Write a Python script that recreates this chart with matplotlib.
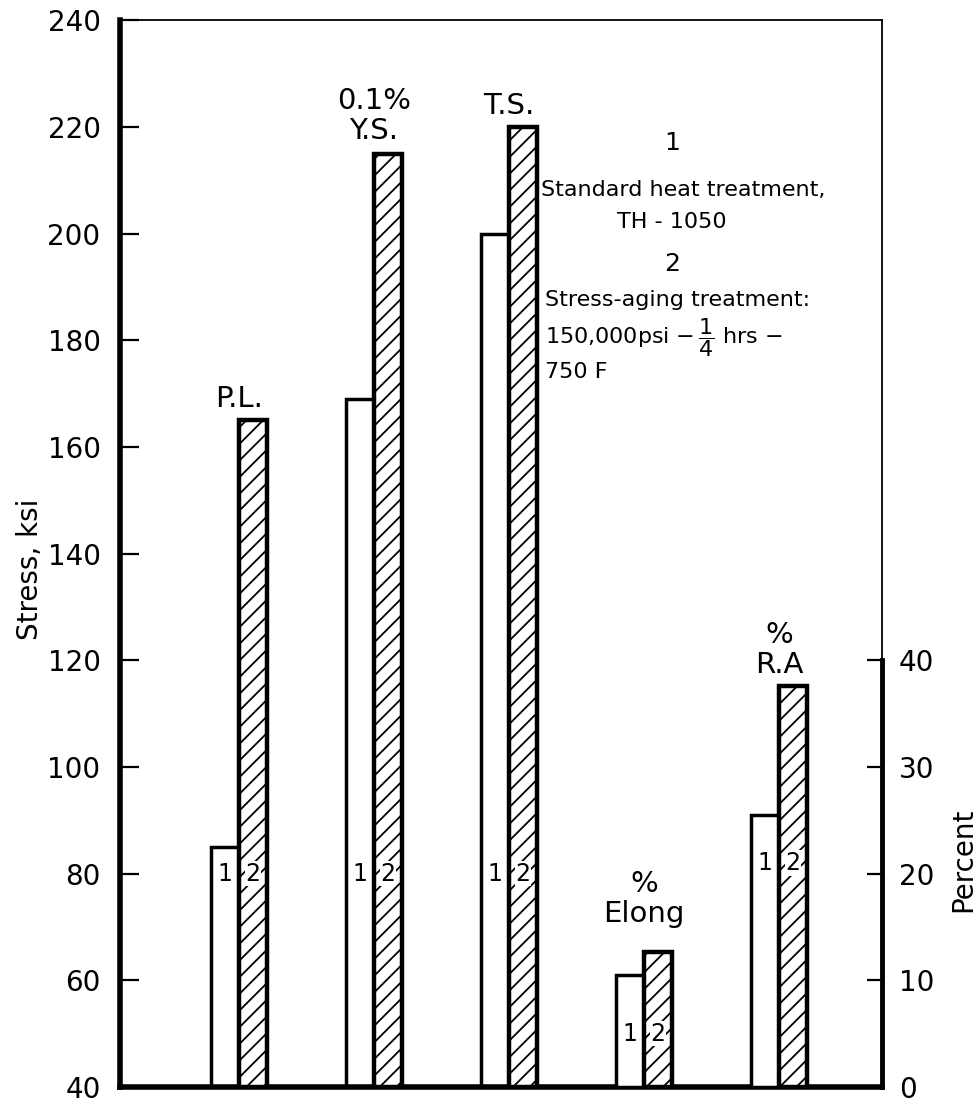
import numpy as np
import matplotlib
matplotlib.use("Agg")
import matplotlib.pyplot as plt

plt.rcParams['font.family'] = ['DejaVu Sans']
plt.rcParams['hatch.linewidth'] = 1.3

# stress properties (ksi), left axis
stress_names = ['P.L.', '0.1%\nY.S.', 'T.S.']
stress_1 = [85, 169, 200]
stress_2 = [165, 215, 220]
# ductility (percent), right axis
pct_names = ['%\nElong', '%\nR.A']
pct_1 = [10.5, 25.5]
pct_2 = [12.7, 37.6]

stress_ticks = list(range(40, 241, 20))
pct_ticks = [0, 10, 20, 30, 40]

fig = plt.figure(figsize=(9.77, 11.09), dpi=100)
ax = fig.add_axes([0.1228, 0.0198, 0.78, 0.962])
ax2 = ax.twinx()

w = 0.207
xs = np.arange(len(stress_names))
xp = np.arange(len(pct_names)) + len(stress_names)

ax.bar(xs - w / 2, np.array(stress_1) - 40, bottom=40, width=w,
       facecolor='white', edgecolor='black', linewidth=2.5, zorder=2)
ax.bar(xs + w / 2, np.array(stress_2) - 40, bottom=40, width=w,
       facecolor='white', edgecolor='black', linewidth=0, hatch='//', zorder=3)
ax.bar(xs + w / 2, np.array(stress_2) - 40, bottom=40, width=w,
       facecolor='none', edgecolor='black', linewidth=3.2, zorder=6)
ax2.bar(xp - w / 2, pct_1, width=w,
        facecolor='white', edgecolor='black', linewidth=2.5, zorder=2)
ax2.bar(xp + w / 2, pct_2, width=w,
        facecolor='white', edgecolor='black', linewidth=0, hatch='//', zorder=3)
ax2.bar(xp + w / 2, pct_2, width=w,
        facecolor='none', edgecolor='black', linewidth=3.2, zorder=6)

ax.set_xlim(-0.88, 4.764)
ax.set_ylim(40, 240)
ax2.set_ylim(0, 100)

# bar numbers
for x in xs:
    ax.text(x - w / 2, 80, '1', ha='center', va='center', fontsize=17, zorder=5)
    ax.text(x + w / 2, 80, '2', ha='center', va='center', fontsize=17, zorder=5,
            bbox=dict(facecolor='white', edgecolor='none', pad=0.5))
num_y = [5, 21]
for x, y in zip(xp, num_y):
    ax2.text(x - w / 2, y, '1', ha='center', va='center', fontsize=17, zorder=5)
    ax2.text(x + w / 2, y, '2', ha='center', va='center', fontsize=17, zorder=5,
             bbox=dict(facecolor='white', edgecolor='none', pad=0.5))

# category labels above bars
stress_pad = [5, 6, 5]
pct_pad = [17, 5]
for x, name, v, p in zip(xs, stress_names, stress_2, stress_pad):
    ax.annotate(name, (x, v), xytext=(0, p), textcoords='offset points',
                ha='center', va='bottom', fontsize=21, linespacing=1.1)
for x, name, v, p in zip(xp, pct_names, pct_2, pct_pad):
    ax2.annotate(name, (x, v), xytext=(0, p), textcoords='offset points',
                 ha='center', va='bottom', fontsize=21, linespacing=1.1)

# key text
ax.text(3.21, 217, '1', ha='center', va='center', fontsize=18)
ax.text(3.29, 208.2, 'Standard heat treatment,', ha='center', va='center', fontsize=16)
ax.text(3.21, 202.2, 'TH - 1050', ha='center', va='center', fontsize=16)
ax.text(3.21, 194.2, '2', ha='center', va='center', fontsize=18)
ax.text(2.27, 187.6, 'Stress-aging treatment:', ha='left', va='center', fontsize=16)
ax.text(2.27, 180.6, r'150,000psi $-\,\dfrac{1}{4}$ hrs $-$', ha='left', va='center', fontsize=16)
ax.text(2.27, 174, '750 F', ha='left', va='center', fontsize=16)

# axes styling
ax.set_xticks([])
ax.set_yticks(stress_ticks)
ax.tick_params(axis='y', direction='in', length=14, width=1.6, labelsize=20, pad=14)
ax2.set_yticks(pct_ticks)
ax2.tick_params(axis='y', direction='in', length=11, width=1.6, labelsize=20, pad=12)
for t in ax.yaxis.get_major_ticks():
    if t.get_loc() in (40, 240):
        t.tick1line.set_visible(False)

ax.spines['left'].set_linewidth(4)
ax.spines['bottom'].set_linewidth(4)
ax.spines['top'].set_linewidth(1.3)
ax.spines['right'].set_linewidth(1.3)
for s in ax2.spines.values():
    s.set_visible(False)
ax2.axvline(4.764, ymin=0, ymax=0.4, color='black', linewidth=3.5, clip_on=False)

ax.set_ylabel('Stress, ksi', fontsize=20)
ax.yaxis.set_label_coords(-0.1, 0.485)
ax2.set_ylabel('Percent', fontsize=20)
ax2.yaxis.set_label_coords(1.088, 0.213)

fig.savefig('out.png', dpi=100)
